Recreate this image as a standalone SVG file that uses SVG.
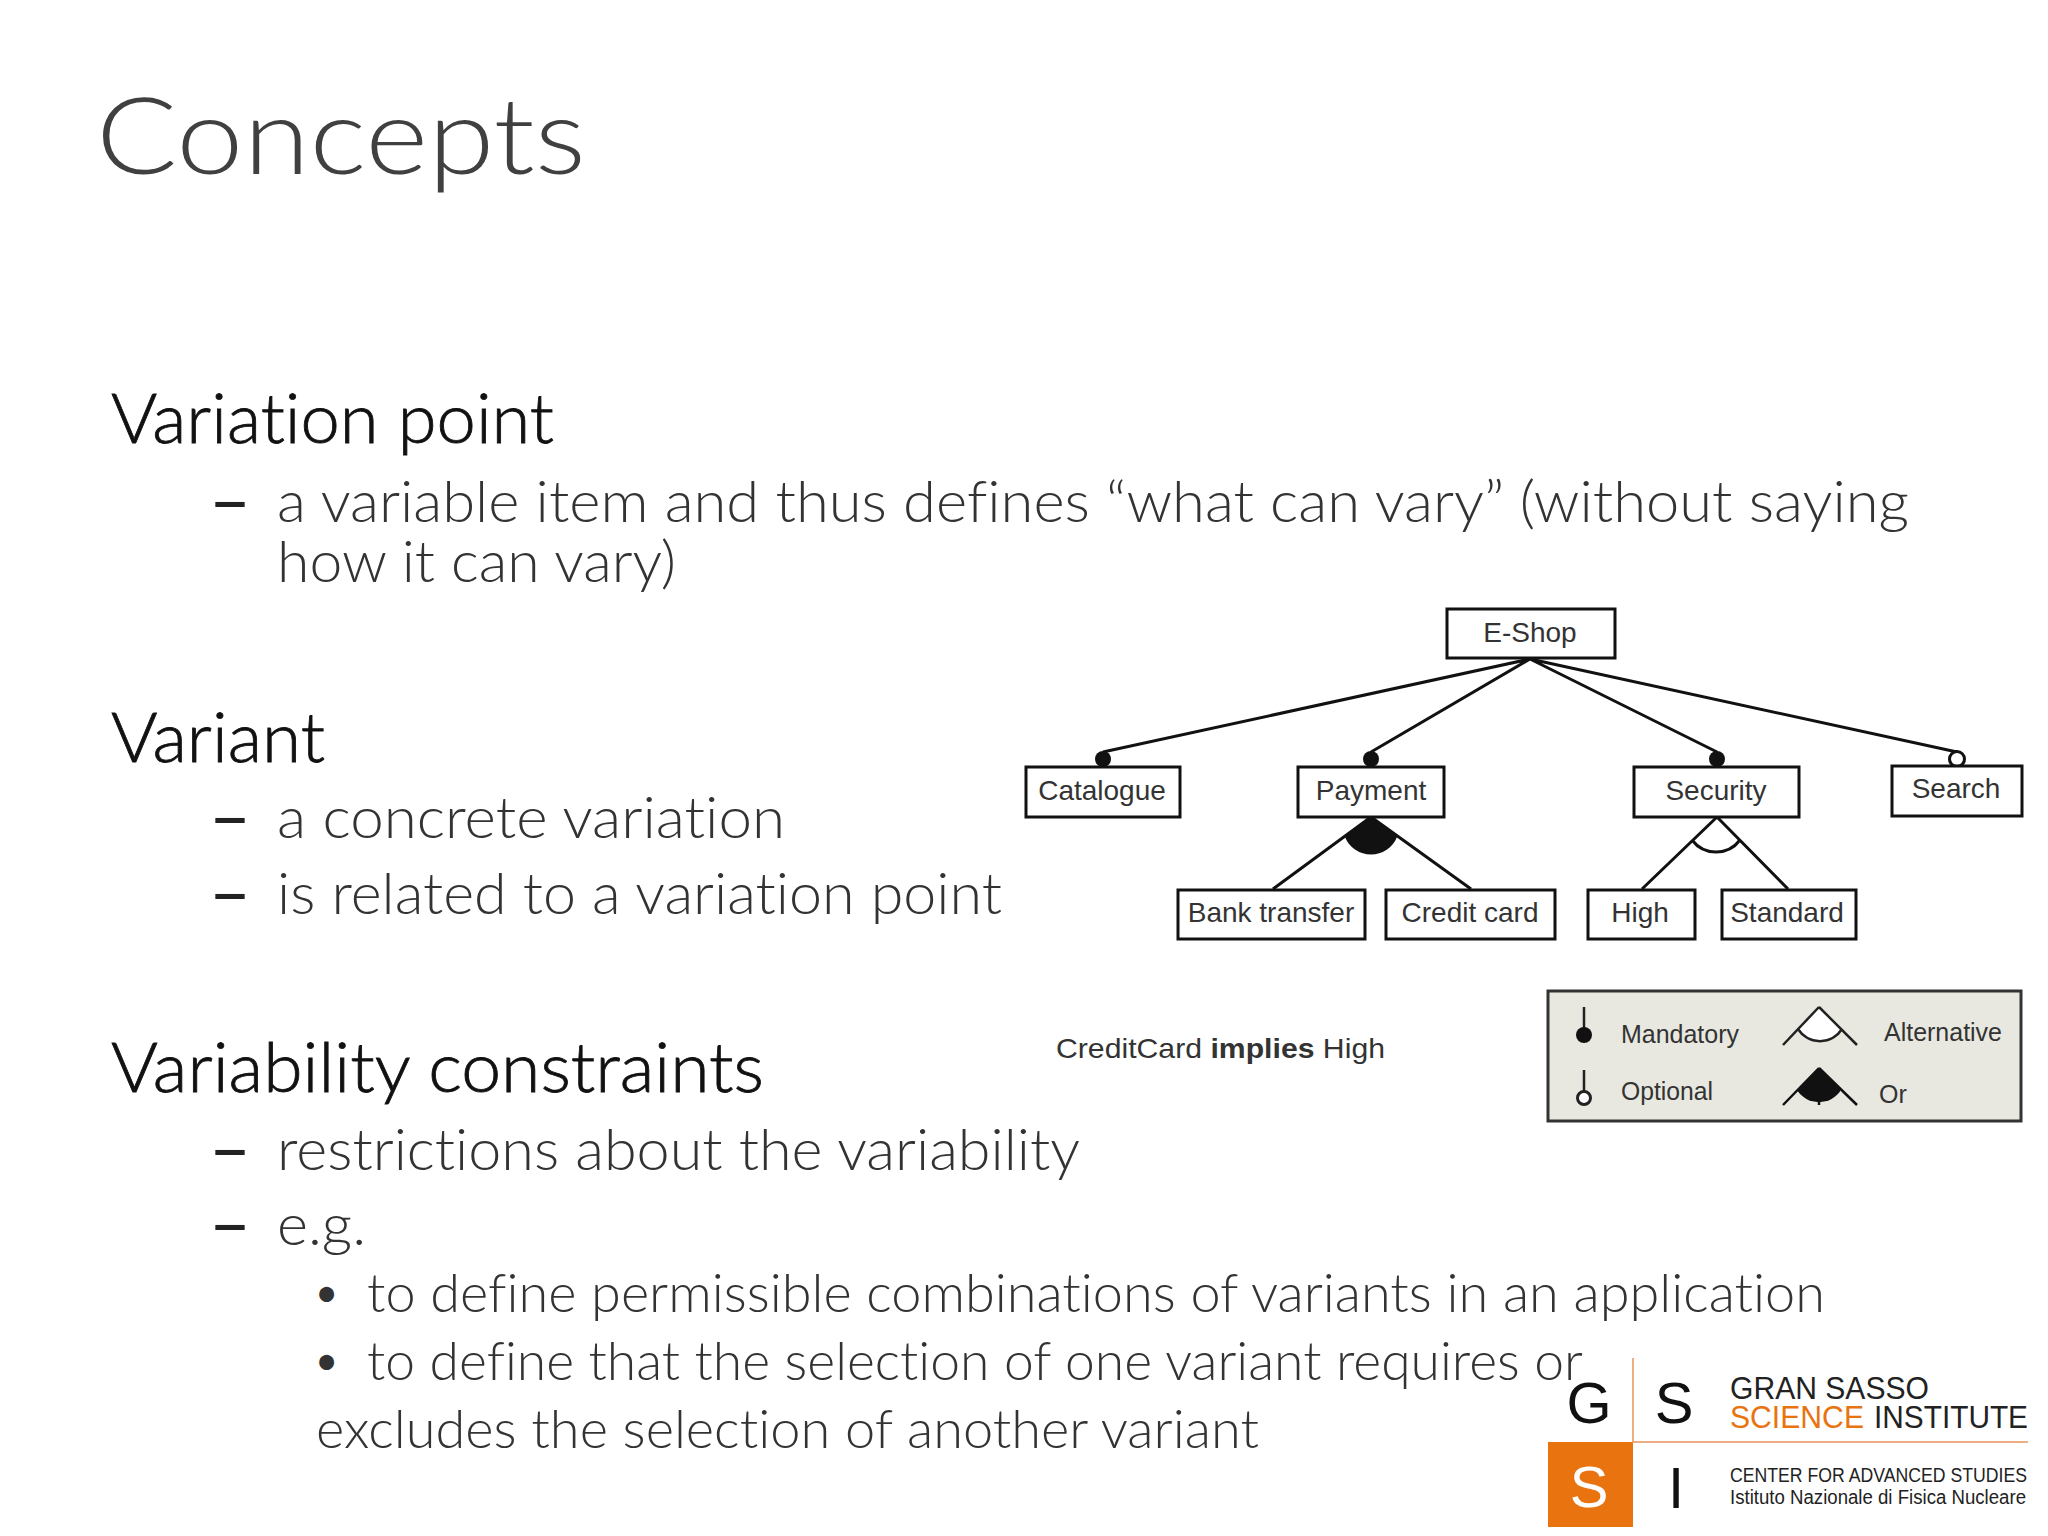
<svg xmlns="http://www.w3.org/2000/svg" width="2048" height="1536" viewBox="0 0 2048 1536">
<style>
.t{font-family:"Lato","Open Sans",sans-serif;font-weight:300;fill:#2a2a2a;font-variant-ligatures:none}
.h{font-size:69px;fill:#111;stroke:#111;stroke-width:.8}
.b{font-size:58px;fill:#333}
.s{font-size:54px;fill:#333}
.d{font-size:58px;fill:#222;font-weight:700}
.p{font-size:40px;fill:#333;font-weight:400}
.n{fill:#fff;stroke:#111;stroke-width:3}
.l{font-family:"Liberation Sans",Arial,sans-serif;font-size:28px;fill:#333}
.m{font-size:25px}
.c{stroke:#111;stroke-width:3;fill:none}
.g{font-family:"Liberation Sans",Arial,sans-serif;fill:#222}
.o{fill:#e8730f}
</style>
<rect width="2048" height="1536" fill="#fff"/>
<g id="slide-text">
<text class="t" x="96" y="174" font-size="106" style="fill:#404040" textLength="490" lengthAdjust="spacingAndGlyphs">Concepts</text>
<text class="t h" x="111" y="443" textLength="443" lengthAdjust="spacingAndGlyphs">Variation point</text>
<text class="t d" x="209" y="522" textLength="42" lengthAdjust="spacingAndGlyphs">–</text>
<text class="t b" x="277" y="522" textLength="1632" lengthAdjust="spacingAndGlyphs">a variable item and thus defines “what can vary” (without saying</text>
<text class="t b" x="277" y="582" textLength="399" lengthAdjust="spacingAndGlyphs">how it can vary)</text>
<text class="t h" x="111" y="762" textLength="214" lengthAdjust="spacingAndGlyphs">Variant</text>
<text class="t d" x="209" y="838" textLength="42" lengthAdjust="spacingAndGlyphs">–</text>
<text class="t b" x="277" y="838" textLength="508" lengthAdjust="spacingAndGlyphs">a concrete variation</text>
<text class="t d" x="209" y="914" textLength="42" lengthAdjust="spacingAndGlyphs">–</text>
<text class="t b" x="277" y="914" textLength="725" lengthAdjust="spacingAndGlyphs">is related to a variation point</text>
<text class="t h" x="111" y="1092" textLength="653" lengthAdjust="spacingAndGlyphs">Variability constraints</text>
<text class="t d" x="209" y="1170" textLength="42" lengthAdjust="spacingAndGlyphs">–</text>
<text class="t b" x="277" y="1170" textLength="803" lengthAdjust="spacingAndGlyphs">restrictions about the variability</text>
<text class="t d" x="209" y="1245" textLength="42" lengthAdjust="spacingAndGlyphs">–</text>
<text class="t b" x="277" y="1245" textLength="89" lengthAdjust="spacingAndGlyphs">e.g.</text>
<text class="t p" x="315" y="1307">•</text>
<text class="t s" x="367" y="1312" textLength="1458" lengthAdjust="spacingAndGlyphs">to define permissible combinations of variants in an application</text>
<text class="t p" x="315" y="1375">•</text>
<text class="t s" x="367" y="1380" textLength="1216" lengthAdjust="spacingAndGlyphs">to define that the selection of one variant requires or</text>
<text class="t s" x="316" y="1448" textLength="943" lengthAdjust="spacingAndGlyphs">excludes the selection of another variant</text>
</g>
<g id="connectors">
<path class="c" d="M1530 659L1103 752M1530 659L1371 752M1530 659L1717 752M1530 659L1957 752"/>
<path class="c" d="M1371 817L1273 889M1371 817L1471 889"/>
<path d="M1371 817L1345 837A28 28 0 0 0 1397 837Z" fill="#111"/>
<path class="c" d="M1717 817L1642 889M1717 817L1788 889"/>
<path class="c" d="M1692 840A30 30 0 0 0 1740 840"/>
<circle cx="1103" cy="759" r="8" fill="#111"/>
<circle cx="1371" cy="759" r="8" fill="#111"/>
<circle cx="1717" cy="759" r="8" fill="#111"/>
<circle cx="1957" cy="759" r="7.5" fill="#fff" stroke="#111" stroke-width="3"/>
</g>
<g id="n-eshop"><rect class="n" x="1447" y="609" width="168" height="49"/><text class="l" x="1530" y="642" text-anchor="middle">E-Shop</text></g>
<g id="n-catalogue"><rect class="n" x="1026" y="767" width="154" height="50"/><text class="l" x="1102" y="800" text-anchor="middle">Catalogue</text></g>
<g id="n-payment"><rect class="n" x="1298" y="767" width="146" height="50"/><text class="l" x="1371" y="800" text-anchor="middle">Payment</text></g>
<g id="n-security"><rect class="n" x="1634" y="767" width="165" height="50"/><text class="l" x="1716" y="800" text-anchor="middle">Security</text></g>
<g id="n-search"><rect class="n" x="1892" y="766" width="130" height="50"/><text class="l" x="1956" y="798" text-anchor="middle">Search</text></g>
<g id="n-bank"><rect class="n" x="1178" y="890" width="187" height="49"/><text class="l" x="1271" y="922" text-anchor="middle">Bank transfer</text></g>
<g id="n-credit"><rect class="n" x="1386" y="890" width="169" height="49"/><text class="l" x="1470" y="922" text-anchor="middle">Credit card</text></g>
<g id="n-high"><rect class="n" x="1588" y="890" width="107" height="49"/><text class="l" x="1640" y="922" text-anchor="middle">High</text></g>
<g id="n-standard"><rect class="n" x="1722" y="890" width="134" height="49"/><text class="l" x="1787" y="922" text-anchor="middle">Standard</text></g>
<g id="constraint"><text class="l" x="1056" y="1058" textLength="329" lengthAdjust="spacingAndGlyphs">CreditCard <tspan font-weight="700">implies</tspan> High</text></g>
<g id="legend">
<rect x="1548" y="991" width="473" height="130" fill="#e8e8e0" stroke="#333" stroke-width="3"/>
<path d="M1584 1007V1030M1584 1070V1092" stroke="#222" stroke-width="2.5" fill="none"/>
<circle cx="1584" cy="1035" r="8" fill="#111"/>
<circle cx="1584" cy="1098" r="6.5" fill="#fff" stroke="#222" stroke-width="3"/>
<path d="M1819 1007L1798 1029A26 26 0 0 0 1842 1029Z" fill="#fff"/>
<path d="M1819 1007L1783 1045M1819 1007L1857 1045M1798 1029A26 26 0 0 0 1842 1029" stroke="#222" stroke-width="2.5" fill="none"/>
<path d="M1819 1068L1797 1090A26 26 0 0 0 1841 1090Z" fill="#111"/>
<path d="M1819 1068L1783 1105M1819 1068L1857 1105M1819 1096V1105" stroke="#111" stroke-width="2.5" fill="none"/>
<text class="l m" x="1621" y="1043" style="font-size:25px" textLength="118" lengthAdjust="spacingAndGlyphs">Mandatory</text>
<text class="l m" x="1884" y="1041" style="font-size:25px" textLength="118" lengthAdjust="spacingAndGlyphs">Alternative</text>
<text class="l m" x="1621" y="1100" style="font-size:25px" textLength="92" lengthAdjust="spacingAndGlyphs">Optional</text>
<text class="l m" x="1879" y="1103" style="font-size:25px">Or</text>
</g>
<g id="logo">
<rect class="o" x="1548" y="1442" width="85" height="85"/>
<path d="M1633 1358V1442H2028" stroke="#e8955a" stroke-width="1.5" fill="none"/>
<text class="g" x="1589" y="1423" font-size="58" text-anchor="middle" style="fill:#111">G</text>
<text class="g" x="1674" y="1423" font-size="58" text-anchor="middle" style="fill:#111">S</text>
<text class="g" x="1589" y="1507" font-size="58" text-anchor="middle" style="fill:#fff">S</text>
<text class="g" x="1676" y="1508" font-size="58" text-anchor="middle" style="fill:#111">I</text>
<text class="g" x="1730" y="1399" font-size="31" textLength="199" lengthAdjust="spacingAndGlyphs">GRAN SASSO</text>
<text class="g" x="1730" y="1428" font-size="31" textLength="134" lengthAdjust="spacingAndGlyphs" style="fill:#e8730f">SCIENCE</text>
<text class="g" x="1874" y="1428" font-size="31" textLength="154" lengthAdjust="spacingAndGlyphs">INSTITUTE</text>
<text class="g" x="1730" y="1482" font-size="20" textLength="297" lengthAdjust="spacingAndGlyphs">CENTER FOR ADVANCED STUDIES</text>
<text class="g" x="1730" y="1504" font-size="20" textLength="296" lengthAdjust="spacingAndGlyphs">Istituto Nazionale di Fisica Nucleare</text>
</g>
</svg>
